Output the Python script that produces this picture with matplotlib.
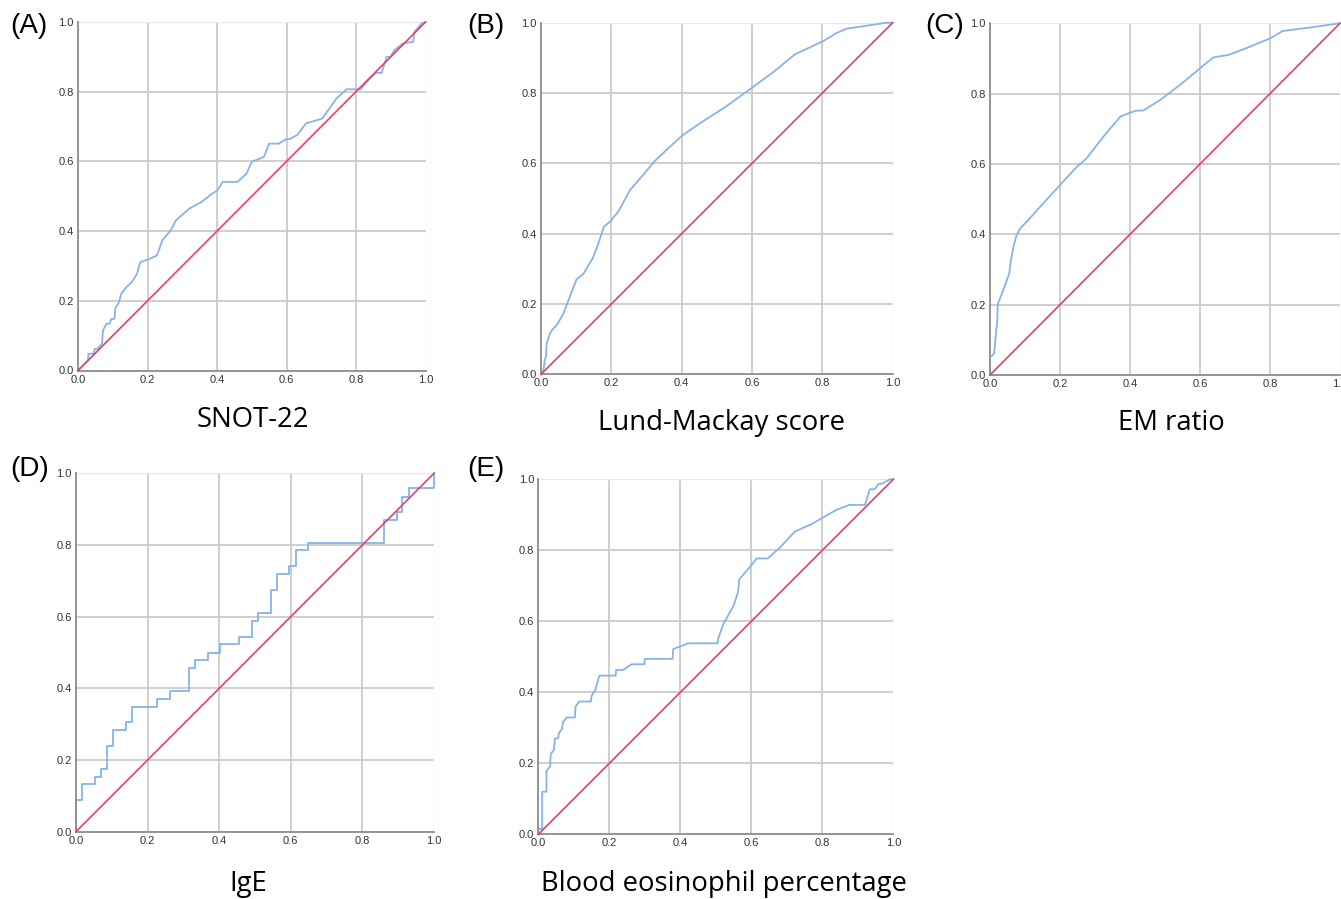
import numpy as np
import matplotlib
matplotlib.use("Agg")
import matplotlib.pyplot as plt

# (A) SNOT-22
fpr_a = [0, 0.029, 0.03, 0.045, 0.048, 0.055, 0.06, 0.069, 0.072, 0.082, 0.091, 0.096,
         0.105, 0.107, 0.118, 0.124, 0.139, 0.155, 0.17, 0.179, 0.203, 0.227, 0.243,
         0.268, 0.282, 0.321, 0.356, 0.38, 0.401, 0.416, 0.459, 0.485, 0.5, 0.535, 0.55,
         0.578, 0.599, 0.61, 0.632, 0.656, 0.703, 0.72, 0.744, 0.773, 0.813, 0.84,
         0.857, 0.874, 0.888, 0.899, 0.912, 0.936, 0.965, 0.967, 0.989, 1.0]
tpr_a = [0, 0.029, 0.048, 0.048, 0.062, 0.062, 0.067, 0.077, 0.115, 0.134, 0.134, 0.148,
         0.148, 0.177, 0.196, 0.22, 0.239, 0.254, 0.278, 0.311, 0.319, 0.33, 0.374,
         0.404, 0.431, 0.465, 0.484, 0.503, 0.517, 0.541, 0.541, 0.565, 0.599, 0.613,
         0.651, 0.651, 0.664, 0.664, 0.677, 0.709, 0.723, 0.747, 0.781, 0.807, 0.807,
         0.838, 0.854, 0.854, 0.9, 0.9, 0.921, 0.939, 0.943, 0.97, 0.996, 1.0]

# (B) Lund-Mackay score
fpr_b = [0, 0.007, 0.011, 0.014, 0.016, 0.026, 0.033, 0.045, 0.064, 0.082, 0.101, 0.12,
         0.147, 0.16, 0.179, 0.196, 0.22, 0.253, 0.286, 0.324, 0.362, 0.4, 0.452, 0.528,
         0.604, 0.661, 0.722, 0.803, 0.841, 0.869, 0.917, 0.983, 1.0]
tpr_b = [0, 0.012, 0.041, 0.05, 0.088, 0.117, 0.128, 0.14, 0.173, 0.221, 0.27, 0.285,
         0.33, 0.363, 0.42, 0.434, 0.463, 0.524, 0.562, 0.607, 0.643, 0.678, 0.714,
         0.763, 0.818, 0.86, 0.91, 0.948, 0.971, 0.983, 0.99, 1.0, 1.0]

# (C) EM ratio
fpr_c = [0, 0, 0.008, 0.012, 0.017, 0.021, 0.022, 0.038, 0.055, 0.06, 0.067, 0.076,
         0.088, 0.105, 0.152, 0.2, 0.248, 0.276, 0.324, 0.373, 0.4, 0.421, 0.438,
         0.486, 0.543, 0.6, 0.638, 0.681, 0.724, 0.8, 0.836, 0.914, 1.0]
tpr_c = [0, 0.052, 0.057, 0.062, 0.118, 0.156, 0.2, 0.242, 0.289, 0.327, 0.365, 0.398,
         0.419, 0.436, 0.488, 0.54, 0.592, 0.616, 0.678, 0.735, 0.746, 0.752, 0.752,
         0.782, 0.825, 0.872, 0.903, 0.91, 0.926, 0.957, 0.978, 0.988, 1.0]

# (D) IgE (step curve)
fpr_d = [0, 0, 0.016, 0.052, 0.069, 0.086, 0.104, 0.14, 0.157, 0.227, 0.263, 0.316,
         0.332, 0.368, 0.402, 0.456, 0.491, 0.509, 0.544, 0.561, 0.596, 0.614, 0.649,
         0.86, 0.896, 0.912, 0.93, 1.0]
tpr_d = [0, 0.088, 0.132, 0.153, 0.175, 0.24, 0.284, 0.305, 0.349, 0.37, 0.393, 0.458,
         0.479, 0.5, 0.523, 0.544, 0.588, 0.609, 0.674, 0.718, 0.74, 0.786, 0.805,
         0.87, 0.893, 0.935, 0.958, 1.0]

# (E) Blood eosinophil percentage
fpr_e = [0, 0, 0.011, 0.011, 0.023, 0.023, 0.033, 0.035, 0.044, 0.047, 0.056, 0.058,
         0.066, 0.07, 0.08, 0.103, 0.105, 0.115, 0.148, 0.15, 0.16, 0.172, 0.218,
         0.219, 0.239, 0.263, 0.299, 0.3, 0.378, 0.38, 0.423, 0.505, 0.507, 0.521,
         0.551, 0.563, 0.566, 0.601, 0.615, 0.646, 0.681, 0.723, 0.77, 0.84, 0.876,
         0.92, 0.934, 0.948, 0.958, 0.967, 0.991, 1.0]
tpr_e = [0, 0.015, 0.015, 0.12, 0.12, 0.179, 0.19, 0.226, 0.238, 0.27, 0.27, 0.285,
         0.296, 0.317, 0.329, 0.329, 0.36, 0.374, 0.374, 0.39, 0.405, 0.447, 0.447,
         0.463, 0.463, 0.479, 0.479, 0.494, 0.494, 0.522, 0.538, 0.538, 0.552, 0.592,
         0.646, 0.684, 0.718, 0.759, 0.777, 0.777, 0.808, 0.853, 0.874, 0.914, 0.928,
         0.928, 0.972, 0.972, 0.987, 0.987, 1.0, 1.0]

panels = [
    ("(A)", "SNOT-22", fpr_a, tpr_a, None),
    ("(B)", "Lund-Mackay score", fpr_b, tpr_b, None),
    ("(C)", "EM ratio", fpr_c, tpr_c, None),
    ("(D)", "IgE", fpr_d, tpr_d, "steps-post"),
    ("(E)", "Blood eosinophil percentage", fpr_e, tpr_e, None),
]

W, H = 1341, 899
# axes boxes in pixels: left, right, top, bottom
boxes = [(78, 425.5, 22, 370.5), (541, 892.7, 22.7, 374.3), (990, 1340, 23.3, 375),
         (76, 434, 473.3, 831.7), (538.3, 893.3, 479.3, 834.3)]
tag_pos = [(29, 26), (486, 26), (945, 26), (30, 469), (486, 469)]
xlab_pos = [(253, 420), (721, 423), (1171, 423), (248, 884), (724, 884)]

fig = plt.figure(figsize=(W / 100, H / 100), dpi=100)
fig.patch.set_facecolor("white")

ticks = [0.0, 0.2, 0.4, 0.6, 0.8, 1.0]
for (tag, name, fpr, tpr, ds), (l, r, t, b), tp, xp in zip(panels, boxes, tag_pos, xlab_pos):
    ax = fig.add_axes([l / W, 1 - b / H, (r - l) / W, (b - t) / H])
    ax.set_xlim(0, 1)
    ax.set_ylim(0, 1)
    ax.set_xticks(ticks)
    ax.set_yticks(ticks)
    ax.set_xticklabels([f"{v:.1f}" for v in ticks], fontsize=8, family="Liberation Sans", color="#333333")
    ax.set_yticklabels([f"{v:.1f}" for v in ticks], fontsize=8, family="Liberation Sans", color="#333333")
    ax.tick_params(length=0, pad=3)
    for g in ticks[1:-1]:
        ax.axhline(g, color="#cccccc", lw=1.3, zorder=0)
        ax.axvline(g, color="#cccccc", lw=1.3, zorder=0)
    ax.axhline(1.0, color="#e8e8e8", lw=1.0, zorder=0)
    ax.axvline(1.0, color="#e8e8e8", lw=1.0, zorder=0)
    for s in ["top", "right"]:
        ax.spines[s].set_visible(False)
    for s in ["left", "bottom"]:
        ax.spines[s].set_color("#8c8c8c")
        ax.spines[s].set_linewidth(1.3)
    ax.plot([0, 1], [0, 1], color="#e5406a", lw=1.2, zorder=3, clip_on=False)
    ax.plot(fpr, tpr, color="#86b3ea", lw=1.3, zorder=2, drawstyle=ds or "default", clip_on=False)
    fig.text(tp[0] / W, 1 - tp[1] / H, tag, fontsize=20, family="Liberation Sans",
             ha="center", va="center")
    fig.text(xp[0] / W, 1 - xp[1] / H, name, fontsize=19.8, family="Open Sans",
             ha="center", va="center")

fig.savefig("out.png", dpi=100)
